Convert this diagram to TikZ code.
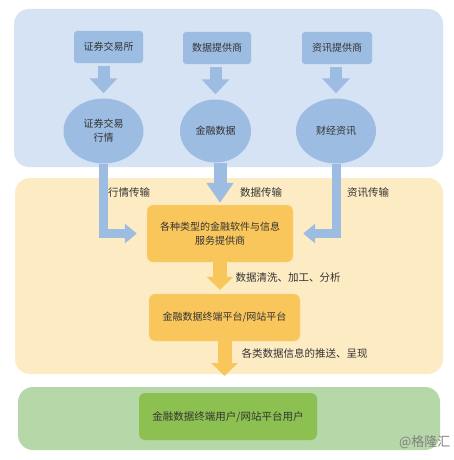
\documentclass[tikz,border=0pt]{standalone}
\usepackage{fontspec}
\setmainfont{Noto Sans CJK SC}
\usepackage{tikz}
\usetikzlibrary{positioning,arrows.meta,shapes.geometric}

\definecolor{panelblue}{HTML}{D6E3F4}
\definecolor{boxblue}{HTML}{9CBCE2}
\definecolor{panelyellow}{HTML}{FDEBC4}
\definecolor{boxorange}{HTML}{F9C65C}
\definecolor{lineorange}{HTML}{FBD98E}
\definecolor{panelgreen}{HTML}{B6D7A8}
\definecolor{boxgreen}{HTML}{8CC152}
\definecolor{txt}{HTML}{333333}

\tikzstyle{panel}     = [rounded corners=15pt]
\tikzstyle{srcbox}    = [rectangle, rounded corners=3pt, fill=boxblue, minimum width=69pt, minimum height=32pt, text=txt, font=\fontsize{10}{14}\selectfont]
\tikzstyle{datanode}  = [ellipse, fill=boxblue, minimum width=80pt, minimum height=65pt, align=center, text=txt, font=\fontsize{10}{14}\selectfont]
\tikzstyle{servbox}   = [rectangle, rounded corners=6pt, fill=boxorange, draw=lineorange, align=center, text=txt, font=\fontsize{10}{14}\selectfont]
\tikzstyle{lbl}       = [text=txt, font=\fontsize{10.5}{12}\selectfont]
\tikzstyle{toparrow}  = [line width=12pt, draw=boxblue, -{Triangle[width=27pt,length=15pt]}]
\tikzstyle{sidearrow} = [line width=9pt, draw=boxblue, -{Triangle[width=19pt,length=12pt]}]
\tikzstyle{midarrow}  = [line width=13pt, draw=boxblue, -{Triangle[width=26pt,length=20pt]}]
\tikzstyle{orarrow}   = [line width=14pt, draw=boxorange, -{Triangle[width=26pt,length=13pt]}]

\begin{document}
\begin{tikzpicture}[x=1pt,y=-1pt]
        \useasboundingbox (0,0) rectangle (454,460);

        % the three bands
        \fill[panel, panelblue]   (14,9)    rectangle (443,167);
        \fill[panel, panelyellow] (15,178)  rectangle (443,374);
        \fill[panel, panelgreen]  (18,387)  rectangle (440,450);

        % sources
        \node[srcbox] (exch) at (108.5,47) {证券交易所};
        \node[srcbox, minimum width=68pt] (vend) at (217,48) {数据提供商};
        \node[srcbox, minimum width=70pt] (news) at (337,48) {资讯提供商};

        \node[datanode] (quote) at (103.5,131) {证券交易\\行情};
        \node[datanode, minimum width=71pt, minimum height=63pt] (fin) at (215.5,131) {金融数据};
        \node[datanode] (finnews) at (336,131) {财经资讯};

        \draw[toparrow, shorten <=3pt, shorten >=5pt] (exch.south -| quote.north) -- (quote.north);
        \draw[toparrow, shorten <=3pt, shorten >=5pt] (vend.south -| fin.north) -- (fin.north);
        \draw[toparrow, shorten <=3pt, shorten >=5pt] (news.south -| finnews.north) -- (finnews.north);

        % providers
        \node[servbox, minimum width=146pt, minimum height=57pt] (prov) at (220,233.5) {各种类型的金融软件与信息\\服务提供商};
        \node[servbox, minimum width=151pt, minimum height=47pt] (platform) at (224.5,317.5) {金融数据终端平台/网站平台};
        \coordinate (push) at (224.5,376);

        \draw[sidearrow, shorten >=10pt] (quote.south) |- (prov.west);
        \draw[sidearrow, shorten >=10pt] (finnews.south) |- (prov.east);
        \draw[midarrow, shorten >=2pt] (fin.south -| prov.north) -- (prov.north);

        \node[lbl] (l1) at (129,193) {行情传输};
        \node[lbl] (l2) at (261,193) {数据传输};
        \node[lbl] (l3) at (368,193) {资讯传输};

        \draw[orarrow, shorten >=4pt] (prov.south) -- (prov.south |- platform.north);
        \draw[orarrow] (platform.south) -- (push);
        \node[lbl, anchor=west] (l4) at (232,278) {数据清洗、加工、分析};
        \node[lbl, anchor=west] (l5) at (238,353) {各类数据信息的推送、呈现};

        % users
        \node[rectangle, rounded corners=6pt, fill=boxgreen, minimum width=178pt, minimum height=47pt, text=txt, font=\fontsize{10.5}{12}\selectfont] (user) at (228,416.5) {金融数据终端用户/网站平台用户};

        \node[text=gray, font=\fontsize{13}{14}\selectfont, anchor=east] (mark) at (454,442) {@格隆汇};
    \end{tikzpicture}
\end{document}
